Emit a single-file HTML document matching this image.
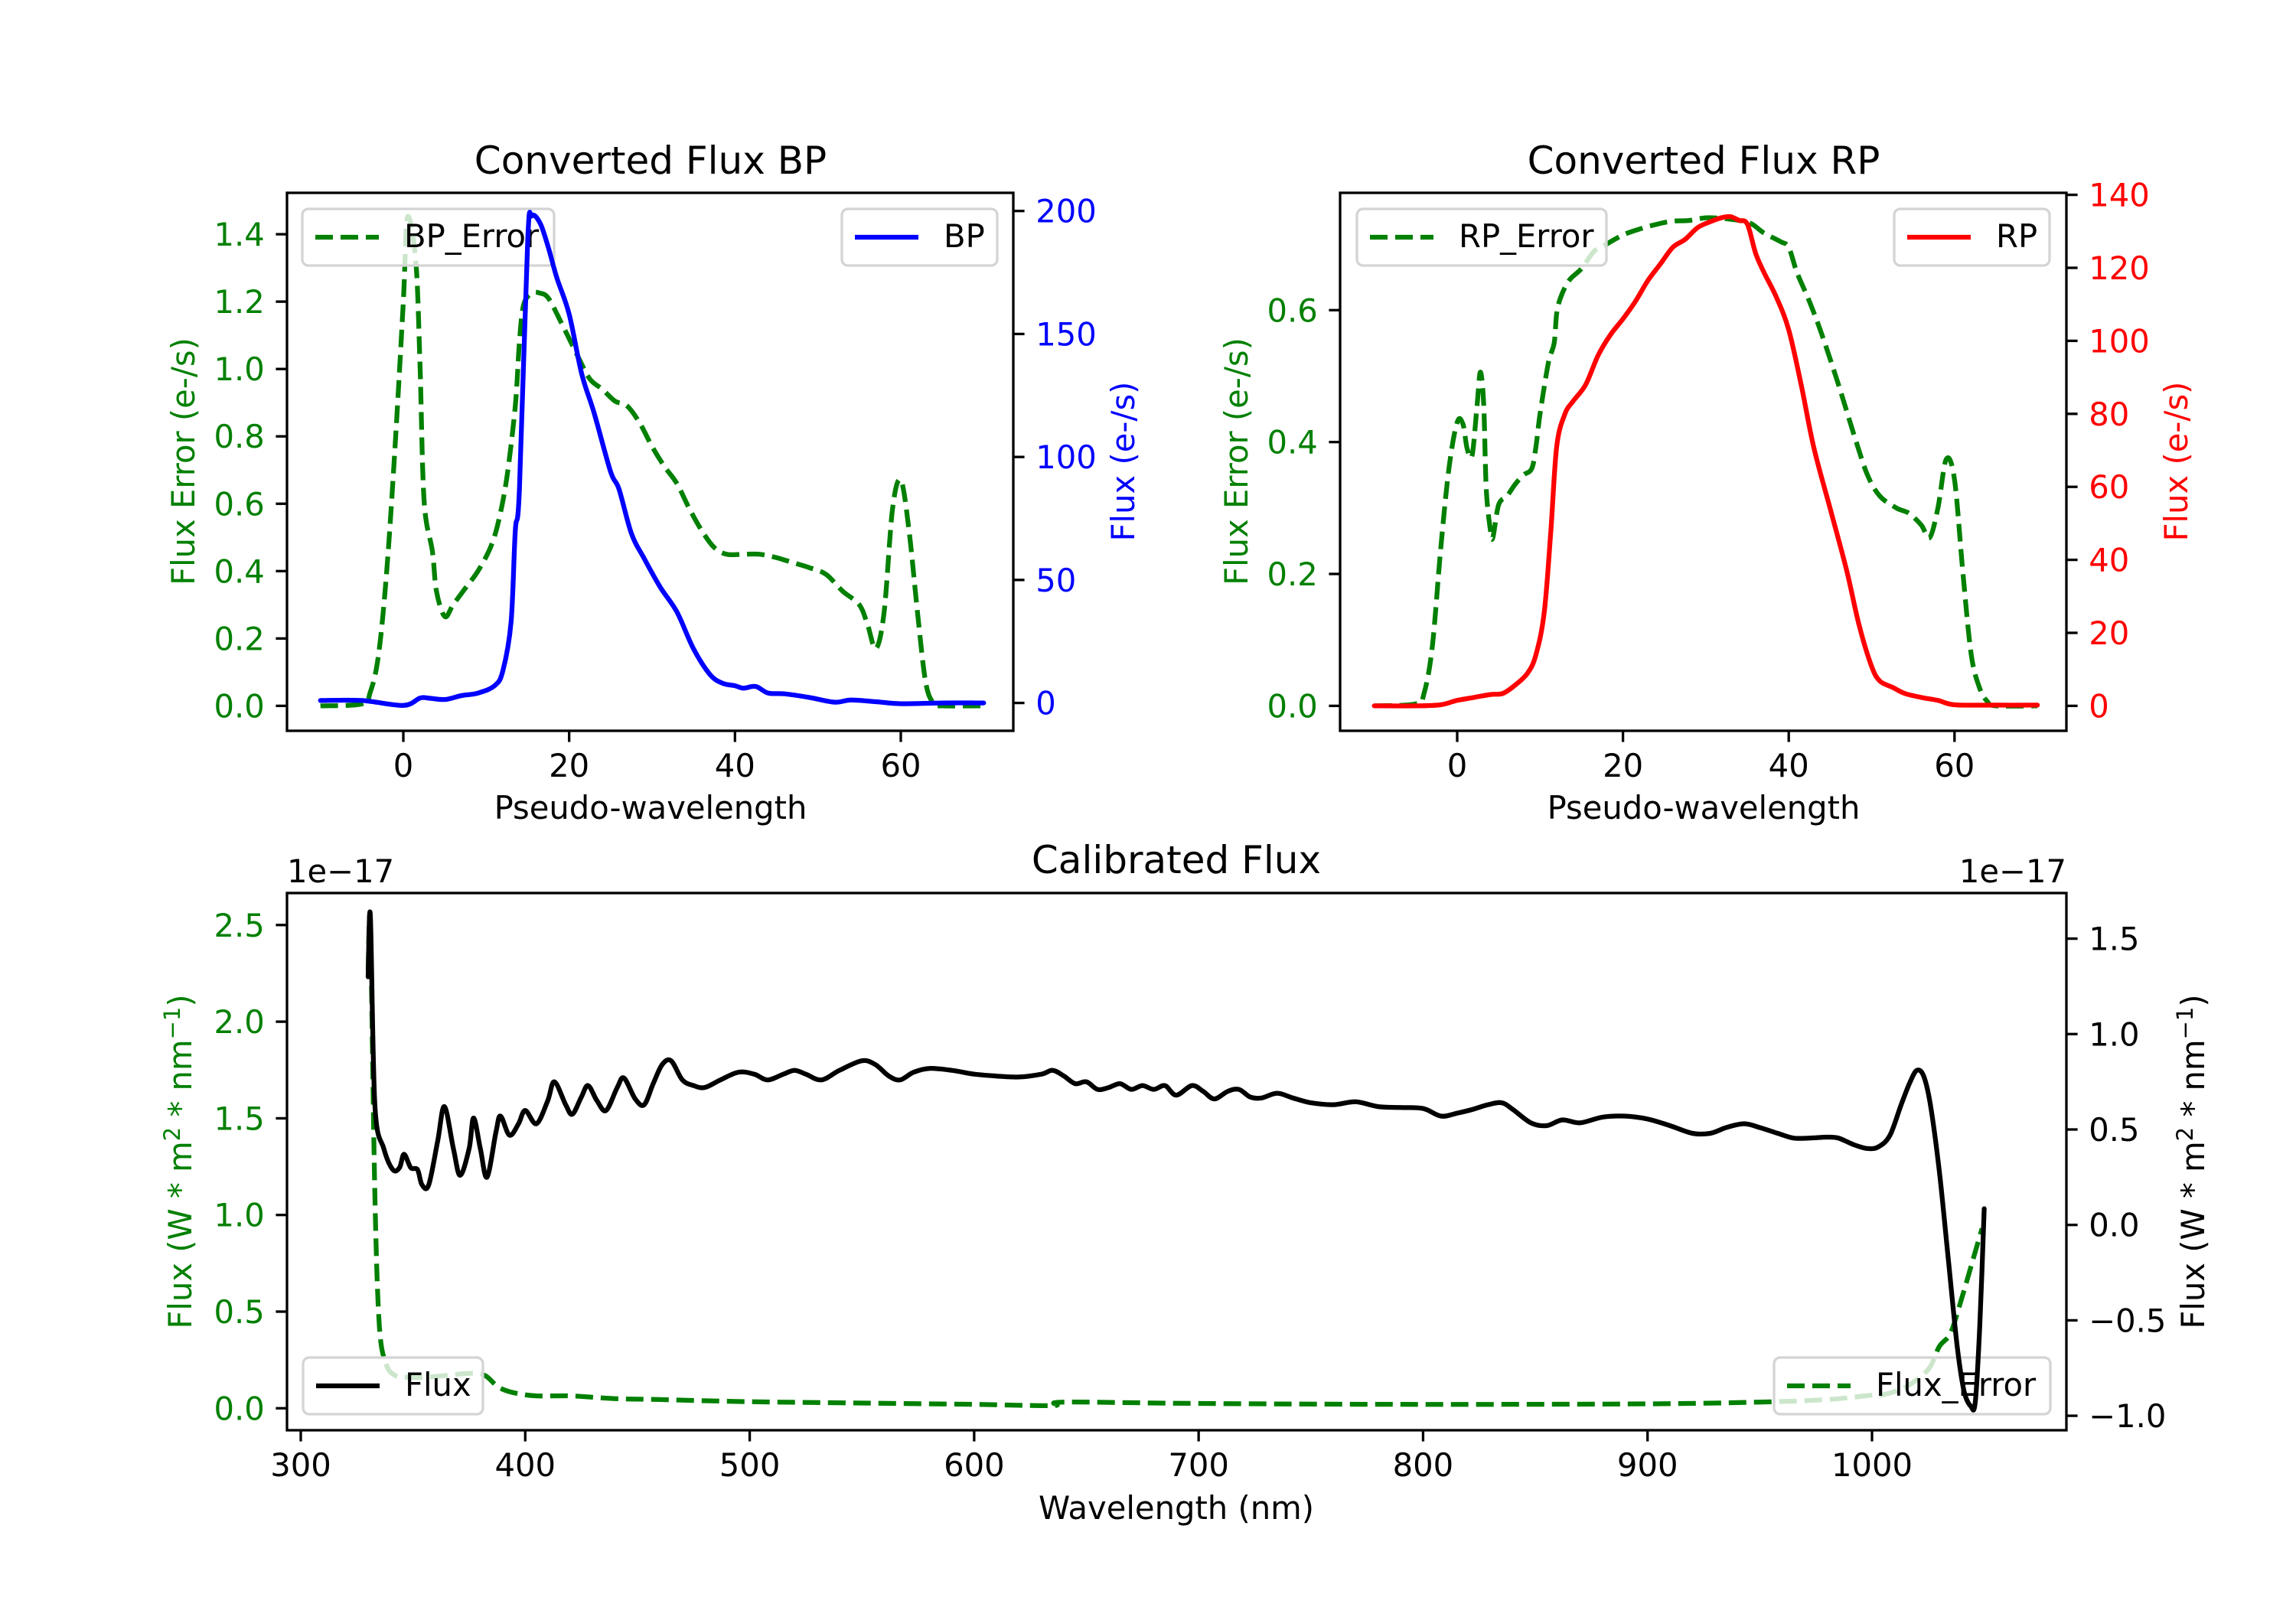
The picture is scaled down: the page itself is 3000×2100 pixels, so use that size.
<!DOCTYPE html>
<html><head><meta charset="utf-8"><title>Converted and Calibrated Flux</title>
<style>html,body{margin:0;padding:0;background:#fff}svg{display:block}text{font-family:"DejaVu Sans","Liberation Sans",sans-serif}</style>
</head><body>
<svg id="fig" xmlns="http://www.w3.org/2000/svg" width="3000" height="2100" viewBox="0 0 3000 2100">
<rect x="0" y="0" width="3000" height="2100" fill="#fff"/>
</svg>
<script>
// ---------- BP panel data ----------
const bpX = [-10,-5,0,2,3,5,7,9,11,12,13,13.5,14,15,15.5,16.5,17.5,18.5,20,21.5,23,25,26,27.5,29,31,33,35,37,38.5,40,41,42.5,44,46,49,52,54,57,60,65,70];
const bpFlux = [1,1,-1,2,2,1.4,3,4,7,13,33,70,87,188,198,195,185,173,158,134,118,94,87,69,59,47,37,22,11.5,8,7,6,6.7,4,3.7,2.2,0.3,1.2,0.5,-0.3,0,0];
const bpErrX = [-10,-5,-4,-3,-2,-1,0,0.5,1.5,2,2.5,3.5,4,5,6,7.5,9,10.5,11.5,12.5,13.5,14,14.5,15.5,16.5,17.5,19,21,22.5,24,25.5,27,28.5,30,31.5,33,34.5,36,37.5,39,41,43,45,47,49,51,53,55,56,57,58,59,60,61,62,63,64,65,70];
const bpErr = [0,0.006,0.04,0.15,0.40,0.77,1.2,1.45,1.32,1.02,0.61,0.46,0.34,0.265,0.30,0.35,0.40,0.47,0.55,0.68,0.89,1.08,1.19,1.225,1.225,1.21,1.14,1.04,0.97,0.94,0.905,0.89,0.84,0.77,0.71,0.66,0.585,0.52,0.47,0.45,0.45,0.45,0.44,0.425,0.41,0.39,0.34,0.30,0.24,0.17,0.28,0.585,0.67,0.52,0.28,0.07,0.006,0,0];
// ---------- RP panel data ----------
const rpX = [-10,-5,-2,0,2,4,5.5,7,8.5,9.5,10.5,11.3,12,13,14,15.5,17,18.5,20,21.5,23,24.5,26,27.5,29,30.5,32,33,34,35,36,37,38.5,40,41.5,43,45,47,48.5,50,51,52.5,54,56,58,60,65,70];
const rpFlux = [0,0,0.3,1.5,2.3,3.1,3.4,5.7,9,14,25.6,48,71,80,83.5,88,96,101.7,106,110.8,116.5,121,125.6,127.8,131,132.6,133.8,134,133,132,124,118.8,112,103,88,71,54,37,22,10.8,6.8,5.1,3.4,2.3,1.5,0.3,0.2,0.2];
const rpErrX = [-10,-5,-4,-3,-2,-1,0,0.7,1.2,1.8,2.4,2.8,3.2,3.5,4,4.3,5,6,7,8,9,9.5,10,11,11.7,12,12.5,13.5,15,16.5,18,20,22,24,26,28,30,32,34,35.5,37,39,40,41,42.5,44,46,48,49.5,51,53,54.5,56,57,58,59,60,61,62,63,64,65,70];
const rpErr = [0,0.003,0.019,0.09,0.236,0.36,0.43,0.427,0.39,0.38,0.456,0.506,0.456,0.33,0.267,0.255,0.305,0.318,0.336,0.35,0.36,0.393,0.443,0.52,0.55,0.595,0.62,0.645,0.663,0.689,0.70,0.714,0.723,0.73,0.735,0.736,0.740,0.739,0.736,0.731,0.717,0.704,0.695,0.657,0.613,0.563,0.487,0.406,0.35,0.318,0.30,0.292,0.274,0.255,0.30,0.374,0.343,0.204,0.079,0.028,0.006,0,0];
// ---------- Calibrated panel data (units of 1e-17) ----------
const calX = [330,331,333,337,341,344,346,349,352,354,357,361,364,368,371,375,377,380,383,387,389,393,397,400,405,410,413,418,421,425,428,432,436,441,444,449,453,457,461,465,470,475,480,487,495,502,508,515,520,525,532,540,550,556,562,567,573,580,590,600,610,620,630,635,640,645,650,655,660,665,670,675,680,685,690,697,702,707,713,718,723,728,735,742,750,760,770,780,790,800,808,815,822,829,835,840,848,855,862,870,880,890,900,910,920,928,935,943,950,958,965,972,980,985,992,998,1003,1008,1013,1017,1020,1023,1026,1030,1034,1038,1041,1044,1046,1048,1050];
const calFlux = [1.3,1.62,0.63,0.40,0.29,0.30,0.37,0.30,0.29,0.21,0.21,0.44,0.62,0.40,0.26,0.40,0.56,0.40,0.25,0.49,0.57,0.47,0.53,0.60,0.53,0.65,0.75,0.63,0.58,0.67,0.73,0.65,0.60,0.72,0.77,0.66,0.63,0.74,0.84,0.86,0.76,0.73,0.72,0.76,0.80,0.79,0.76,0.79,0.81,0.79,0.76,0.81,0.86,0.84,0.78,0.76,0.80,0.82,0.81,0.79,0.78,0.775,0.79,0.81,0.78,0.74,0.75,0.71,0.72,0.74,0.71,0.73,0.71,0.73,0.68,0.73,0.70,0.66,0.70,0.71,0.67,0.665,0.69,0.665,0.64,0.63,0.645,0.62,0.615,0.61,0.57,0.585,0.605,0.63,0.64,0.605,0.535,0.52,0.55,0.535,0.565,0.57,0.555,0.52,0.48,0.48,0.51,0.53,0.51,0.48,0.455,0.455,0.46,0.455,0.42,0.40,0.41,0.47,0.63,0.75,0.81,0.78,0.63,0.28,-0.18,-0.64,-0.87,-0.95,-0.93,-0.53,0.085];
const calErrX = [330,331,333,335,338,342,348,355,365,375,382,388,395,405,420,440,460,500,550,600,635,640,700,800,900,950,980,1000,1005,1015,1025,1030,1035,1040,1045,1049];
const calErr = [2.27,2.5,1.11,0.43,0.23,0.17,0.16,0.16,0.17,0.18,0.17,0.11,0.08,0.064,0.064,0.05,0.045,0.034,0.027,0.02,0.014,0.032,0.025,0.02,0.023,0.032,0.045,0.068,0.07,0.11,0.20,0.32,0.39,0.57,0.77,0.93];
// ---------- tick labels ----------
const bpXTicks = [0,20,40,60];
const bpLTicks = [0,0.2,0.4,0.6,0.8,1.0,1.2,1.4];
const bpRTicks = [0,50,100,150,200];
const rpLTicks = [0,0.2,0.4,0.6];
const rpRTicks = [0,20,40,60,80,100,120,140];
const calXTicks = [300,400,500,600,700,800,900,1000];
const calLTicks = [0,0.5,1.0,1.5,2.0,2.5];
const calRTicks = [-1.0,-0.5,0.0,0.5,1.0,1.5];

const NS = "http://www.w3.org/2000/svg";
const svg = document.getElementById('fig');
function el(tag, attrs, parent) {
  const e = document.createElementNS(NS, tag);
  for (const k in attrs) e.setAttribute(k, attrs[k]);
  (parent || svg).appendChild(e);
  return e;
}
function lin(d0, p0, d1, p1) { return v => p0 + (v - d0) * (p1 - p0) / (d1 - d0); }
function pathD(xs, ys, sx, sy) {
  const P = xs.map((x, i) => [sx(x), sy(ys[i])]);
  let d = 'M' + P[0][0].toFixed(1) + ',' + P[0][1].toFixed(1);
  for (let i = 0; i < P.length - 1; i++) {
    const p0 = P[Math.max(0, i - 1)], p1 = P[i], p2 = P[i + 1], p3 = P[Math.min(P.length - 1, i + 2)];
    const c1x = p1[0] + (p2[0] - p0[0]) / 6, c1y = p1[1] + (p2[1] - p0[1]) / 6;
    const c2x = p2[0] - (p3[0] - p1[0]) / 6, c2y = p2[1] - (p3[1] - p1[1]) / 6;
    d += 'C' + c1x.toFixed(1) + ',' + c1y.toFixed(1) + ' ' + c2x.toFixed(1) + ',' + c2y.toFixed(1) + ' ' + p2[0].toFixed(1) + ',' + p2[1].toFixed(1);
  }
  return d;
}
function fmt(v, dec) { const s = v.toFixed(dec); return s.replace('-', '\u2212'); }
const FS = 41.7;

function text(str, x, y, anchor, color, size, name) {
  const t = el('text', {x: x, y: y, 'text-anchor': anchor, fill: color, 'font-size': size});
  t.textContent = str;
  
  
  return t;
}
function series(xs, ys, sx, sy, color, dashed, name) {
  const p = el('path', {d: pathD(xs, ys, sx, sy), fill: 'none', stroke: color, 'stroke-width': 6.25, 'stroke-linejoin': 'round', 'stroke-linecap': dashed ? 'butt' : 'round'});
  if (dashed) p.setAttribute('stroke-dasharray', '23,10');
  
  
  return p;
}
function frame(x0, y0, x1, y1, name) {
  const r = el('rect', {x: x0, y: y0, width: x1 - x0, height: y1 - y0, fill: 'none', stroke: '#000', 'stroke-width': 3.3});
  
  
}
function xTicks(ticks, sx, yb, dec, name) {
  ticks.forEach(v => {
    const x = sx(v);
    const l = el('line', {x1: x, y1: yb, x2: x, y2: yb + 14.6, stroke: '#000', 'stroke-width': 3.3});
    
    
    text(fmt(v, dec), x, yb + 60, 'middle', '#000', FS, name + '-tick-label');
  });
}
function yTicks(ticks, sy, xa, side, dec, color, name) {
  ticks.forEach(v => {
    const y = sy(v);
    const dx = side === 'left' ? -14.6 : 14.6;
    const l = el('line', {x1: xa, y1: y, x2: xa + dx, y2: y, stroke: '#000', 'stroke-width': 3.3});
    
    
    text(fmt(v, dec), xa + dx * 2, y + 15, side === 'left' ? 'end' : 'start', color, FS, name + '-tick-label');
  });
}
function vlabel(str, x, y, color, name) {
  const t = text(str, x, y, 'middle', color, FS, name);
  t.setAttribute('transform', 'rotate(-90 ' + x + ' ' + y + ')');
  return t;
}
function legend(x0, y0, x1, y1, color, dashed, label, name) {
  const g = el('g', {});
  
  
  const r = el('rect', {x: x0, y: y0, width: x1 - x0, height: y1 - y0, rx: 8, fill: 'rgba(255,255,255,0.8)', stroke: '#d4d4d4', 'stroke-width': 3.3}, g);
  
  
  const ym = (y0 + y1) / 2;
  const l = el('line', {x1: x0 + 17, y1: ym, x2: x0 + 100, y2: ym, stroke: color, 'stroke-width': 6.25}, g);
  if (dashed) l.setAttribute('stroke-dasharray', '23,10');
  
  
  const t = el('text', {x: x0 + 133, y: ym + 13, fill: '#000', 'font-size': FS}, g);
  t.textContent = label;
  
  
}

// ===== BP panel =====
const bpSX = lin(0, 527, 60, 1177);
const bpSL = lin(0, 922.4, 1.4, 306.1);
const bpSR = lin(0, 918.6, 200, 275.7);
series(bpErrX, bpErr, bpSX, bpSL, '#008000', true, 'bp-error-line');
legend(395, 273, 724, 347, '#008000', true, 'BP_Error', 'bp-error-legend');
series(bpX, bpFlux, bpSX, bpSR, '#0000ff', false, 'bp-flux-line');
legend(1100, 273, 1303, 347, '#0000ff', false, 'BP', 'bp-legend');
frame(375, 252, 1324, 955, 'bp-axes-frame');
xTicks(bpXTicks, bpSX, 955, 0, 'bp-x');
yTicks(bpLTicks, bpSL, 375, 'left', 1, '#008000', 'bp-y-left');
yTicks(bpRTicks, bpSR, 1324, 'right', 0, '#0000ff', 'bp-y-right');
text('Converted Flux BP', 850, 227, 'middle', '#000', 50, 'bp-title');
text('Pseudo-wavelength', 850, 1070, 'middle', '#000', FS, 'bp-x-axis-title');
vlabel('Flux Error (e-/s)', 254, 603, '#008000', 'bp-y-left-title');
vlabel('Flux (e-/s)', 1482, 603, '#0000ff', 'bp-y-right-title');

// ===== RP panel =====
const rpSX = lin(0, 1904, 60, 2553.8);
const rpSL = lin(0, 922.4, 0.6, 405.3);
const rpSR = lin(0, 922.4, 140, 254.6);
series(rpErrX, rpErr, rpSX, rpSL, '#008000', true, 'rp-error-line');
legend(1773, 273, 2099, 347, '#008000', true, 'RP_Error', 'rp-error-legend');
series(rpX, rpFlux, rpSX, rpSR, '#ff0000', false, 'rp-flux-line');
legend(2475, 273, 2678, 347, '#ff0000', false, 'RP', 'rp-legend');
frame(1751, 252, 2700, 955, 'rp-axes-frame');
xTicks(bpXTicks, rpSX, 955, 0, 'rp-x');
yTicks(rpLTicks, rpSL, 1751, 'left', 1, '#008000', 'rp-y-left');
yTicks(rpRTicks, rpSR, 2700, 'right', 0, '#ff0000', 'rp-y-right');
text('Converted Flux RP', 2226, 227, 'middle', '#000', 50, 'rp-title');
text('Pseudo-wavelength', 2226, 1070, 'middle', '#000', FS, 'rp-x-axis-title');
vlabel('Flux Error (e-/s)', 1630, 603, '#008000', 'rp-y-left-title');
vlabel('Flux (e-/s)', 2858, 603, '#ff0000', 'rp-y-right-title');

// ===== Calibrated panel =====
const cSX = lin(300, 393, 1000, 2446);
const cSL = lin(0, 1840.3, 2.5, 1208.8);
const cSR = lin(0, 1600.7, 1.5, 1226.6);
series(calErrX, calErr, cSX, cSL, '#008000', true, 'flux-error-line');
legend(396, 1774, 631, 1848, '#000', false, 'Flux', 'flux-legend');
legend(2318, 1774, 2679, 1848, '#008000', true, 'Flux_Error', 'flux-error-legend');
series(calX, calFlux, cSX, cSR, '#000000', false, 'flux-line');
frame(375, 1167, 2700, 1869, 'cal-axes-frame');
xTicks(calXTicks, cSX, 1869, 0, 'cal-x');
yTicks(calLTicks, cSL, 375, 'left', 1, '#008000', 'cal-y-left');
yTicks(calRTicks, cSR, 2700, 'right', 1, '#000', 'cal-y-right');
text('Calibrated Flux', 1537, 1141, 'middle', '#000', 50, 'cal-title');
text('1e\u221217', 375, 1153, 'start', '#000', FS, 'cal-y-left-offset');
text('1e\u221217', 2700, 1153, 'end', '#000', FS, 'cal-y-right-offset');
text('Wavelength (nm)', 1537, 1985, 'middle', '#000', FS, 'cal-x-axis-title');

function fluxLabel(x, color, name) {
  const y = 1518;
  const t = el('text', {x: x, y: y, 'text-anchor': 'middle', fill: color, 'font-size': FS, transform: 'rotate(-90 ' + x + ' ' + y + ')'});
  
  
  const parts = [['Flux (W * m', 0], ['2', 1], [' * nm', 0], ['\u22121', 1], [')', 0]];
  parts.forEach(p => {
    const s = el('tspan', {}, t);
    if (p[1]) { s.setAttribute('font-size', 29); s.setAttribute('dy', -15); }
    else if (s.previousSibling && s.previousSibling.getAttribute('dy') === '-15') { s.setAttribute('dy', 15); }
    s.textContent = p[0];
  });
}
fluxLabel(250, '#008000', 'cal-y-left-title');
fluxLabel(2880, '#000', 'cal-y-right-title');
</script>
</body></html>
